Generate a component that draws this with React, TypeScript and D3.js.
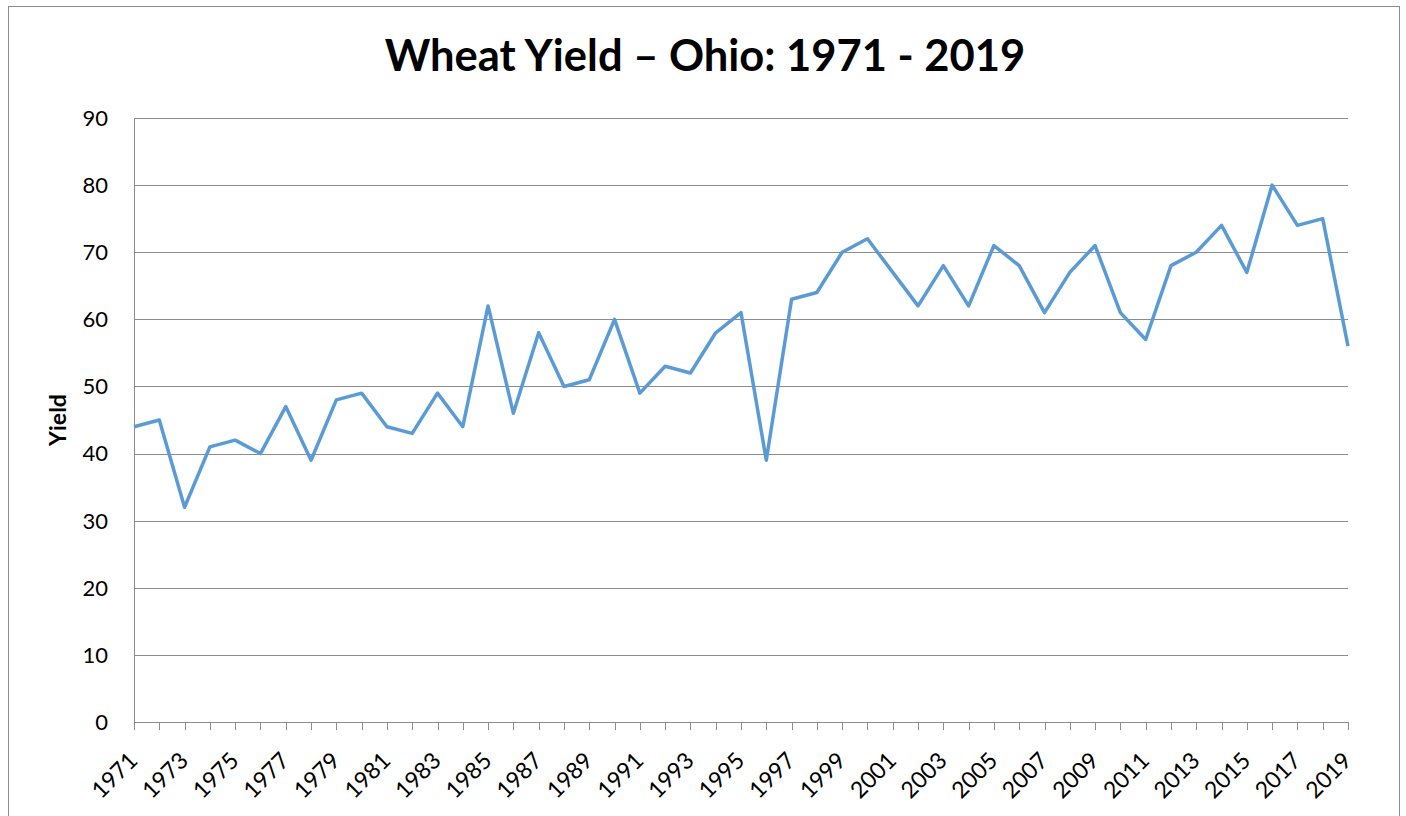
import React from "react";
import * as d3 from "d3";

const years: number[] = d3.range(1971, 2020);
const yieldValues: number[] = [
  44, 45, 32, 41, 42, 40, 47, 39, 48, 49,
  44, 43, 49, 44, 62, 46, 58, 50, 51, 60,
  49, 53, 52, 58, 61, 39, 63, 64, 70, 72,
  67, 62, 68, 62, 71, 68, 61, 67, 71, 61,
  57, 68, 70, 74, 67, 80, 74, 75, 56,
];
const yTicks: number[] = [0, 10, 20, 30, 40, 50, 60, 70, 80, 90];
const xLabelYears: number[] = years.filter((y) => (y - 1971) % 2 === 0);

const W = 1406;
const H = 816;
const left = 134;
const right = 1348;
const top = 118;
const bottom = 722;
const font = "Lato, 'Open Sans', sans-serif";

export default function App() {
  const x = d3.scaleLinear().domain([1971, 2019]).range([left, right]);
  const y = d3.scaleLinear().domain([0, 90]).range([bottom, top]);
  const line = d3
    .line<number>()
    .x((_, i) => x(years[i]))
    .y((d) => y(d));

  return (
    <svg
      width={W}
      height={H}
      style={{ position: "absolute", left: 0, top: 0, background: "#fff" }}
    >
      <rect x={8.5} y={6.5} width={1391} height={830} fill="#fff" stroke="#8c8c8c" strokeWidth={1} />
      <text
        x={705}
        y={71}
        textAnchor="middle"
        fontFamily={font}
        fontWeight="bold"
        fontSize={43.5}
        fill="#000"
      >
        Wheat Yield – Ohio: 1971 - 2019
      </text>
      {yTicks.map((t) => (
        <g key={t}>
          {t > 0 && (
            <line x1={left} x2={right} y1={Math.round(y(t)) + 0.5} y2={Math.round(y(t)) + 0.5} stroke="#8c8c8c" strokeWidth={1} />
          )}
          <text
            x={108}
            y={y(t)}
            dy="0.36em"
            textAnchor="end"
            fontFamily={font}
            fontSize={22}
            fill="#000"
          >
            {t}
          </text>
        </g>
      ))}
      <line x1={left + 0.5} x2={left + 0.5} y1={top} y2={bottom} stroke="#8c8c8c" />
      <line x1={left} x2={right} y1={bottom + 0.5} y2={bottom + 0.5} stroke="#8c8c8c" />
      {years.map((yr) => (
        <line
          key={yr}
          x1={Math.round(x(yr)) + 0.5}
          x2={Math.round(x(yr)) + 0.5}
          y1={bottom}
          y2={bottom + 8}
          stroke="#8c8c8c"
        />
      ))}
      {xLabelYears.map((yr) => (
        <text
          key={yr}
          transform={`translate(${x(yr) + 5},${bottom + 40}) rotate(-45)`}
          textAnchor="end"
          fontFamily={font}
          fontSize={23}
          fill="#000"
        >
          {yr}
        </text>
      ))}
      <text
        transform={`translate(66,${(top + bottom) / 2}) rotate(-90)`}
        textAnchor="middle"
        fontFamily={font}
        fontWeight="bold"
        fontSize={23}
        fill="#000"
      >
        Yield
      </text>
      <path
        d={line(yieldValues) || ""}
        fill="none"
        stroke="#5B9BD5"
        strokeWidth={3.5}
        strokeLinejoin="round"
      />
    </svg>
  );
}
